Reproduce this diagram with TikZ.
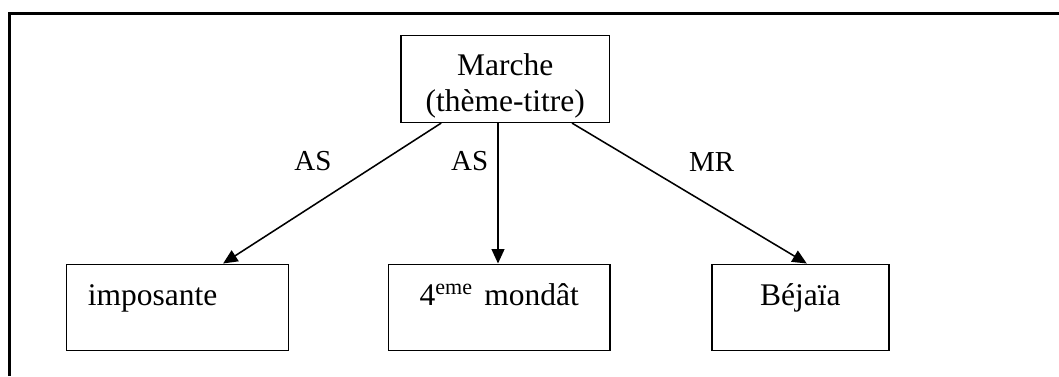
\documentclass[tikz,border=0pt]{standalone}
\usepackage{fontspec}
\setmainfont{Liberation Serif}
\usetikzlibrary{arrows.meta}

\begin{document}
\begin{tikzpicture}
[box/.style={rectangle,draw=black,line width=1.1pt,inner xsep=0pt,inner ysep=0pt,minimum height=2.16cm,text height=1.02cm,text depth=1.14cm,font=\fontsize{22.4}{25.6}\selectfont},
rel/.style={line width=1.1pt,-{Triangle[length=0.36cm,width=0.32cm]},shorten >=0pt,shorten <=0pt},
lbl/.style={draw=none,inner sep=0pt,anchor=base,font=\fontsize{20.6}{24}\selectfont}]
\useasboundingbox (0,0) rectangle (26.475,9.4);
% frame
\draw[line width=1.6pt] (0.24,0) -- (0.24,9.06) -- (26.475,9.06);

% first row
\node[box,minimum width=5.21cm,align=center,text height=1.9cm,text depth=0.265cm] (theme) at (12.63,7.425) {Marche\\(thème-titre)};

% second row
\node[box,minimum width=5.54cm,text width=4.48cm,align=left,inner xsep=0.53cm] (imp) at (4.4375,1.7125) {imposante};
\node[box,minimum width=5.54cm] (mond) at (12.48,1.7125) {4\textsuperscript{eme}\hspace{0.12em} mondât};
\node[box,minimum width=4.43cm] (bej) at (20.01,1.7125) {Béjaïa};

\draw[rel] ([xshift=-1.6cm]theme.south) to ([xshift=1.14cm]imp.north);
\draw[rel] ([xshift=-0.18cm]theme.south) to ([xshift=-0.03cm]mond.north);
\draw[rel] ([xshift=1.67cm]theme.south) to ([xshift=0.16cm]bej.north);

% relation labels
\node[lbl] (as1) at (7.825,5.13) {AS};
\node[lbl] (as2) at (11.74,5.13) {AS};
\node[lbl] (mr) at (17.79,5.12) {MR};

\end{tikzpicture}
\end{document}
